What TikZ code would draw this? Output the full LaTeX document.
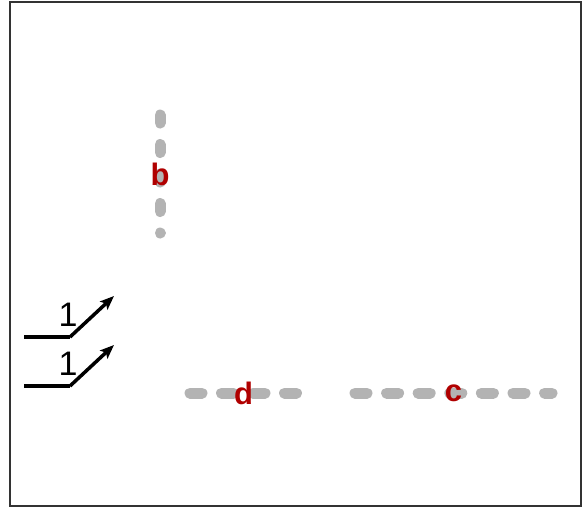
\documentclass[tikz,border=0pt]{standalone}
\usepackage{fontspec}
\setmainfont{Liberation Sans}
\usepackage{tikz}
\usetikzlibrary{arrows,arrows.meta,positioning}
\definecolor{labred}{RGB}{176,0,0}
\definecolor{wiregray}{RGB}{179,179,179}
\tikzstyle{post}=[-{Stealth[length=14pt,width=11pt,inset=3pt]},line width=3.5pt,draw=black]
\tikzstyle{wire}=[line width=11pt,draw=wiregray,line cap=round]
\tikzstyle{lab}=[text=labred,inner sep=0pt,font=\fontsize{31}{31}\selectfont\bfseries]
\tikzstyle{weight}=[inner sep=0pt,font=\fontsize{34}{34}\selectfont]
\begin{document}
\begin{tikzpicture}[x=1pt,y=-1pt]
    \useasboundingbox (0,0) rectangle (582,507);
    \draw[line width=2pt,draw=black!80] (9.5,1.5) rectangle (580.5,505.5);
    
    % signals
    \coordinate (A0) at (24,337);
    \coordinate (A1) at (70,337);
    \coordinate (A2) at (114,296);
    \coordinate (B0) at (24,386);
    \coordinate (B1) at (70,386);
    \coordinate (B2) at (114,345);
    \draw[post,-] (A0) -- (A1);
    \draw[post] (A1) -- (A2);
    \draw[post,-] (B0) -- (B1);
    \draw[post] (B1) -- (B2);
    \node[weight] (wa) at (68,315) {1};
    \node[weight] (wb) at (68,364) {1};
    
    % wires
    \coordinate (b0) at (160,115);
    \coordinate (b1) at (160,233);
    \coordinate (d0) at (190,393);
    \coordinate (d1) at (297,393);
    \coordinate (c0) at (355,393);
    \coordinate (c1) at (552,393);
    \draw[wire,dash pattern=on 8pt off 21.5pt] (b0) -- node[lab] (b) {b} (b1);
    \draw[wire,dash pattern=on 12pt off 19.5pt] (d0) -- node[lab] (d) {d} (d1);
    \draw[wire,dash pattern=on 12pt off 19.6pt] (c0) -- node[lab] (c) {c} (c1);
    
\end{tikzpicture}
\end{document}
